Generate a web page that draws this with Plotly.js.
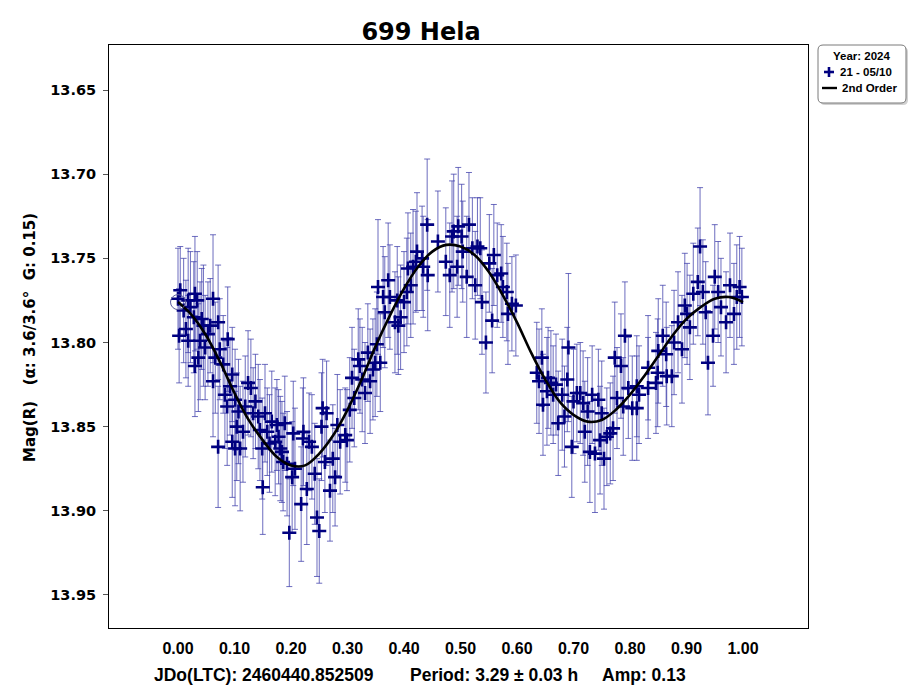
<!DOCTYPE html>
<html>
<head>
<meta charset="utf-8">
<script src="https://cdn.plot.ly/plotly-3.0.1.min.js"></script>
<style>
  html, body { margin: 0; padding: 0; background: #ffffff; }
  #chart { width: 909px; height: 687px; }
</style>
</head>
<body>
<div id="chart"></div>
<script>
// ---- Data ----
const phase = [
  0.000,0.002,0.004,0.010,0.014,0.018,0.018,0.022,0.028,0.030,0.030,0.034,0.036,0.039,0.042,0.045,0.048,0.053,0.057,0.062,
  0.062,0.066,0.071,0.071,0.074,0.080,0.083,0.087,0.088,0.092,0.096,0.096,0.101,0.101,0.104,0.107,0.110,0.115,0.119,0.124,
  0.129,0.133,0.137,0.142,0.145,0.149,0.150,0.154,0.158,0.162,0.166,0.172,0.175,0.178,0.181,0.186,
  0.184,0.189,0.193,0.197,0.202,0.204,0.207,0.218,0.221,0.222,0.228,0.232,0.237,0.242,0.246,0.250,0.254,0.256,0.260,0.263,
  0.269,0.274,0.278,0.282,0.287,0.296,0.299,0.304,0.308,0.312,0.319,0.322,0.326,0.331,0.336,0.340,0.345,0.349,0.352,0.354,
  0.358,0.363,0.366,0.372,0.375,0.384,0.388,0.390,
  0.394,0.400,0.405,0.407,0.412,0.416,0.421,0.423,0.432,0.434,0.441,0.442,0.460,0.474,0.481,0.485,0.488,0.494,0.496,0.502,
  0.504,0.511,0.515,0.521,0.526,0.530,0.535,0.538,0.545,0.551,0.556,0.559,0.565,0.572,0.575,0.582,0.584,0.591,0.598,
  0.635,0.639,0.644,0.646,0.653,0.655,0.660,0.664,0.669,0.673,0.680,0.684,0.689,0.691,0.697,0.700,0.706,0.712,0.717,0.720,
  0.725,0.729,0.733,0.738,0.744,0.747,0.750,0.754,0.759,0.765,0.770,0.773,0.777,0.784,0.788,0.791,0.797,0.804,
  0.812,0.812,0.816,0.832,0.832,0.846,0.849,0.850,0.858,0.864,0.865,0.874,0.878,0.885,0.892,0.897,0.901,0.906,0.912,0.920,
  0.924,0.929,0.934,0.938,0.947,0.950,0.956,0.961,0.970,0.977,0.984,0.989,0.994,0.998
];
const mag = [
  13.774,13.796,13.769,13.781,13.792,13.775,13.799,13.779,13.785,13.771,13.814,13.775,13.809,13.799,13.786,13.790,13.803,13.795,13.790,13.774,
  13.823,13.809,13.788,13.862,13.804,13.813,13.831,13.838,13.798,13.826,13.819,13.859,13.834,13.863,13.850,13.841,13.863,13.853,13.838,13.824,
  13.827,13.842,13.835,13.844,13.852,13.863,13.886,13.842,13.853,13.860,13.847,13.859,13.849,13.856,13.863,13.871,
  13.865,13.848,13.872,13.913,13.880,13.854,13.875,13.896,13.857,13.853,13.887,13.859,13.862,13.878,13.904,13.912,13.850,13.839,13.871,13.842,
  13.888,13.869,13.880,13.849,13.859,13.855,13.858,13.840,13.821,13.833,13.810,13.814,13.822,13.830,13.806,13.823,13.816,13.812,13.801,13.767,
  13.812,13.773,13.782,13.763,13.773,13.788,13.775,13.790,
  13.785,13.776,13.770,13.756,13.766,13.755,13.752,13.746,13.750,13.755,13.730,13.760,13.740,13.752,13.760,13.737,13.734,13.755,13.731,13.737,
  13.746,13.761,13.730,13.744,13.766,13.743,13.744,13.776,13.800,13.753,13.787,13.748,13.760,13.759,13.767,13.770,13.783,13.777,13.778,
  13.818,13.823,13.809,13.837,13.829,13.821,13.824,13.831,13.825,13.848,13.831,13.844,13.822,13.803,13.862,13.835,13.830,13.830,13.836,13.853,
  13.841,13.865,13.831,13.866,13.834,13.858,13.842,13.869,13.856,13.854,13.851,13.809,13.833,13.814,13.838,13.796,13.827,13.839,
  13.826,13.839,13.831,13.827,13.815,13.824,13.818,13.805,13.796,13.807,13.820,13.820,13.800,13.788,13.804,13.778,13.783,13.791,13.771,13.764,
  13.743,13.770,13.782,13.812,13.796,13.761,13.770,13.779,13.788,13.766,13.783,13.773,13.767,13.773
];
const magErr = [
  0.030,0.028,0.026,0.031,0.029,0.031,0.027,0.033,0.033,0.034,0.030,0.029,0.032,0.035,0.030,0.036,0.031,0.031,0.028,0.038,
  0.033,0.033,0.034,0.036,0.030,0.029,0.032,0.035,0.031,0.029,0.028,0.033,0.030,0.034,0.032,0.031,0.037,0.030,0.030,0.031,
  0.029,0.027,0.028,0.031,0.030,0.030,0.028,0.029,0.026,0.029,0.030,0.032,0.027,0.028,0.031,0.029,
  0.030,0.028,0.031,0.032,0.033,0.031,0.036,0.034,0.030,0.032,0.033,0.029,0.031,0.030,0.035,0.031,0.032,0.029,0.030,0.031,
  0.030,0.032,0.029,0.030,0.031,0.028,0.030,0.031,0.030,0.029,0.030,0.028,0.031,0.030,0.029,0.031,0.030,0.032,0.031,0.040,
  0.029,0.030,0.033,0.034,0.031,0.030,0.032,0.029,
  0.031,0.030,0.032,0.033,0.031,0.034,0.030,0.035,0.031,0.030,0.039,0.033,0.030,0.032,0.031,0.033,0.034,0.030,0.035,0.031,
  0.030,0.036,0.031,0.030,0.032,0.029,0.030,0.031,0.030,0.029,0.031,0.030,0.031,0.029,0.030,0.029,0.030,0.028,0.030,
  0.030,0.031,0.029,0.030,0.032,0.030,0.031,0.029,0.030,0.031,0.033,0.030,0.031,0.044,0.030,0.031,0.029,0.030,0.031,0.030,
  0.032,0.030,0.029,0.035,0.030,0.032,0.031,0.030,0.029,0.030,0.031,0.033,0.030,0.031,0.029,0.032,0.030,0.031,
  0.030,0.031,0.029,0.030,0.031,0.030,0.032,0.031,0.030,0.031,0.029,0.030,0.031,0.030,0.032,0.031,0.030,0.031,0.030,0.032,
  0.035,0.031,0.030,0.031,0.030,0.031,0.030,0.029,0.030,0.031,0.030,0.031,0.030,0.029
];

// 2nd order fit curve
const fitPhase = [
  0.000,0.025,0.050,0.075,0.100,0.125,0.150,0.175,0.200,0.225,0.250,0.275,0.300,0.325,0.350,0.375,0.400,0.425,0.450,0.475,
  0.500,0.525,0.550,0.575,0.600,0.625,0.650,0.675,0.700,0.725,0.750,0.775,0.800,0.825,0.850,0.875,0.900,0.925,0.950,0.975,1.000
];
const fitMag = [
  13.776,13.784,13.796,13.812,13.830,13.846,13.858,13.868,13.873,13.873,13.866,13.855,13.840,13.822,13.802,13.784,13.768,13.755,13.746,13.742,
  13.743,13.748,13.758,13.772,13.788,13.806,13.822,13.835,13.843,13.847,13.846,13.840,13.831,13.820,13.808,13.796,13.786,13.779,13.774,13.773,13.776
];

const yTicks = [13.65, 13.70, 13.75, 13.80, 13.85, 13.90, 13.95];
const xTicks = [0.0, 0.1, 0.2, 0.3, 0.4, 0.5, 0.6, 0.7, 0.8, 0.9, 1.0];

const titleText = "699 Hela";
const yTitleText = "Mag(R)\u00a0\u00a0\u00a0(\u03b1: 3.6/3.6\u00b0\u00a0\u00a0G: 0.15)";
const footJD = "JDo(LTC): 2460440.852509";
const footPeriod = "Period: 3.29 \u00b1 0.03 h";
const footAmp = "Amp: 0.13";
const legendTitle = "Year: 2024";
const legendData = "21 - 05/10";
const legendFit = "2nd Order";

// ---- Layout geometry (pixels) ----
const W = 909, H = 687;
const L = 109, R = 808, T = 45, B = 628;
const pw = R - L, ph = B - T;
const px = v => (v - L) / pw;       // pixel x -> paper x
const py = v => (B - v) / ph;       // pixel y -> paper y

const navy = "#000080";
const errColor = "rgba(60,60,170,0.75)";

const traces = [
  {
    x: phase, y: mag, type: "scatter", mode: "markers",
    error_y: { type: "data", array: magErr, visible: true, color: errColor, thickness: 1, width: 3 },
    marker: { symbol: "cross-thin", size: 10, color: navy, line: { color: navy, width: 2.6 } },
    showlegend: false, hoverinfo: "skip"
  },
  {
    x: fitPhase, y: fitMag, type: "scatter", mode: "lines",
    line: { color: "#000000", width: 2.6, shape: "spline", smoothing: 1 },
    showlegend: false, hoverinfo: "skip"
  },
  {
    x: [fitPhase[0]], y: [fitMag[0]], type: "scatter", mode: "markers",
    marker: { symbol: "circle-open", size: 15, color: "#5b5b9c", line: { color: "#5b5b9c", width: 1 } },
    showlegend: false, hoverinfo: "skip"
  }
];

function roundRect(x0, y0, x1, y1, r) {
  const P = (a, b) => px(a).toFixed(5) + "," + py(b).toFixed(5);
  return "M" + P(x0 + r, y0) + " L" + P(x1 - r, y0) + " Q" + P(x1, y0) + " " + P(x1, y0 + r) +
         " L" + P(x1, y1 - r) + " Q" + P(x1, y1) + " " + P(x1 - r, y1) +
         " L" + P(x0 + r, y1) + " Q" + P(x0, y1) + " " + P(x0, y1 - r) +
         " L" + P(x0, y0 + r) + " Q" + P(x0, y0) + " " + P(x0 + r, y0) + " Z";
}

const shapes = [
  { type: "path", xref: "paper", yref: "paper", path: roundRect(820, 47, 908, 105, 5),
    fillcolor: "rgba(0,0,0,0.18)", line: { width: 0 }, layer: "above" },
  { type: "path", xref: "paper", yref: "paper", path: roundRect(818, 45, 906, 103, 5),
    fillcolor: "#ffffff", line: { color: "#7a7a7a", width: 1 }, layer: "above" },
  { type: "line", xref: "paper", yref: "paper", x0: px(824), x1: px(834), y0: py(72), y1: py(72),
    line: { color: navy, width: 2.6 }, layer: "above" },
  { type: "line", xref: "paper", yref: "paper", x0: px(829), x1: px(829), y0: py(67), y1: py(77),
    line: { color: navy, width: 2.6 }, layer: "above" },
  { type: "line", xref: "paper", yref: "paper", x0: px(822), x1: px(837), y0: py(88), y1: py(88),
    line: { color: "#000000", width: 2.4 }, layer: "above" }
];

const legFont = { family: "Liberation Sans, Arial, sans-serif", size: 11.5, color: "#000000", weight: "bold" };
const footFont = { family: "Liberation Sans, Arial, sans-serif", size: 17.5, color: "#000000", weight: "bold" };

const annotations = [
  { text: "<b>" + yTitleText + "</b>", xref: "paper", yref: "paper", x: px(30), y: py(338),
    xanchor: "center", yanchor: "middle", textangle: -90, showarrow: false,
    font: { family: "DejaVu Sans, Verdana, sans-serif", size: 15, color: "#000000" } },
  { text: "<b>" + footJD + "</b>", xref: "paper", yref: "paper", x: px(152), y: py(675),
    xanchor: "left", yanchor: "middle", showarrow: false, font: footFont },
  { text: "<b>" + footPeriod + "</b>", xref: "paper", yref: "paper", x: px(408), y: py(675),
    xanchor: "left", yanchor: "middle", showarrow: false, font: footFont },
  { text: "<b>" + footAmp + "</b>", xref: "paper", yref: "paper", x: px(600), y: py(675),
    xanchor: "left", yanchor: "middle", showarrow: false, font: footFont },
  { text: "<b>" + legendTitle + "</b>", xref: "paper", yref: "paper", x: px(862), y: py(56),
    xanchor: "center", yanchor: "middle", showarrow: false, font: legFont },
  { text: "<b>" + legendData + "</b>", xref: "paper", yref: "paper", x: px(838), y: py(72),
    xanchor: "left", yanchor: "middle", showarrow: false, font: legFont },
  { text: "<b>" + legendFit + "</b>", xref: "paper", yref: "paper", x: px(840), y: py(88),
    xanchor: "left", yanchor: "middle", showarrow: false, font: legFont }
];

const layout = {
  width: W, height: H,
  margin: { l: L, r: W - R, t: T, b: H - B, pad: 0 },
  paper_bgcolor: "#ffffff", plot_bgcolor: "#ffffff",
  showlegend: false,
  title: {
    text: "<b>" + titleText + "</b>",
    x: 421 / W, xref: "container", xanchor: "center",
    y: 1 - 32 / H, yref: "container", yanchor: "middle",
    font: { family: "DejaVu Sans, Verdana, sans-serif", size: 24, color: "#000000" }
  },
  xaxis: {
    range: [(L - 178) / 565, (R - 178) / 565],
    tickvals: xTicks, ticktext: xTicks.map(v => v.toFixed(2)),
    ticks: "", showgrid: false, zeroline: false,
    showline: true, linecolor: "#000000", linewidth: 1, mirror: true,
    ticklabelstandoff: 6,
    tickfont: { family: "Liberation Sans, Arial, sans-serif", size: 16, color: "#000000", weight: "bold" },
    fixedrange: true
  },
  yaxis: {
    range: [13.95 + (B - 595) / 1683, 13.65 - (90 - T) / 1683],
    tickvals: yTicks, ticktext: yTicks.map(v => v.toFixed(2)),
    ticks: "outside", ticklen: 5, tickwidth: 1, tickcolor: "#555555",
    ticklabelstandoff: 4,
    showgrid: false, zeroline: false,
    showline: true, linecolor: "#000000", linewidth: 1, mirror: true,
    tickfont: { family: "DejaVu Sans, Verdana, sans-serif", size: 14.5, color: "#000000", weight: "bold" },
    fixedrange: true
  },
  shapes: shapes,
  annotations: annotations
};

Plotly.newPlot("chart", traces, layout, { staticPlot: true, displayModeBar: false });
</script>
</body>
</html>
